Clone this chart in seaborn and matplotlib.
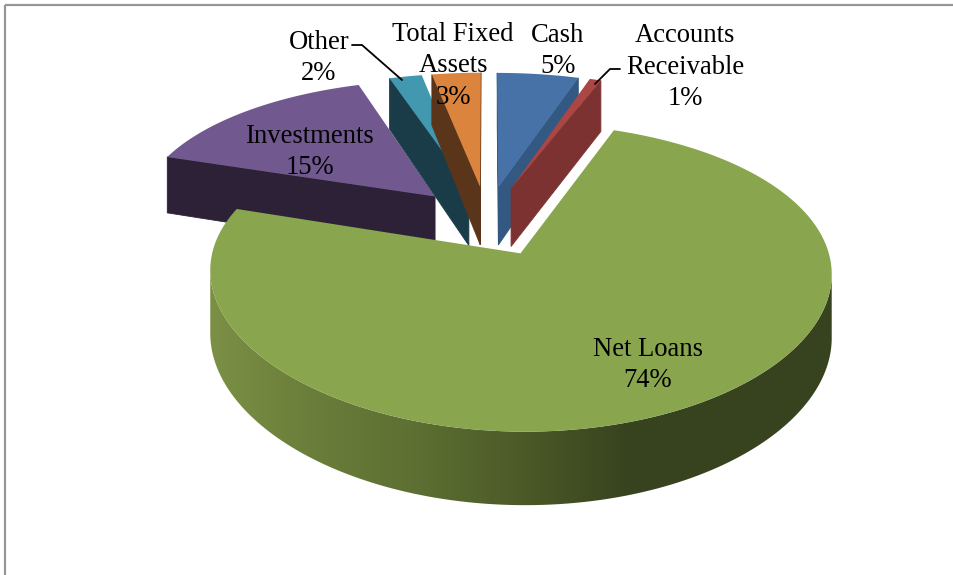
import numpy as np
import matplotlib
matplotlib.use('Agg')
import matplotlib.pyplot as plt
from matplotlib.patches import Polygon
import seaborn as sns

sns.set_theme(style='white')
plt.rcParams['font.family'] = ['Liberation Serif', 'DejaVu Serif']

# slice data, clockwise from 12 o'clock
categories = ['Cash', 'Accounts\nReceivable', 'Net Loans', 'Investments', 'Other', 'Total Fixed\nAssets']
values = [5, 0.7, 74.3, 15, 2, 3]
top_colors = ['#4672a8', '#aa4643', '#89a54e', '#71588f', '#4198af', '#db843d']
side_colors = ['#335882', '#7d3232', '#4e5e2a', '#2c2137', '#1a3c48', '#5a351a']
wall_shades = ['#7b9045', '#6a7d3a', '#5d6f32', '#4c5a28', '#38441f', '#37421e', '#38431f']

# label centres in pixels (x, y of the block)
label_pos = [(558, 51), (685, 67), (648, 365), (310, 152), (319, 58), (453, 66)]

# view settings for the fake 3d
EXPLODE = 0.25
AX, AY = 487, 220.6
SX, SY = 300, 140.6
KX, KY = 0.12, 0.15
DEPTH = 60


def project(u, v):
    x = AX + SX * u / (1 + KX * v)
    y = AY - SY * v / (1 + KY * v)
    return x, y


def drop(v):
    return DEPTH / (1 + KY * v)


fig, ax = plt.subplots(figsize=(9.54, 5.75), dpi=100)
fig.subplots_adjust(0, 0, 1, 1)
ax.axis('off')

# chart frame
ax.plot([5.5, 5.5], [575, 5], color='#969696', lw=1.6, solid_capstyle='butt')
ax.plot([5, 954], [5, 5], color='#969696', lw=1.6, solid_capstyle='butt')

edges = np.cumsum([0] + values) / sum(values) * 360
shades = np.array(sns.blend_palette(wall_shades, n_colors=256))[None, :, :]

# back to front
for i in [3, 4, 5, 0, 1, 2]:
    t1, t2 = edges[i], edges[i + 1]
    mid = np.radians((t1 + t2) / 2)
    cu, cv = EXPLODE * np.sin(mid), EXPLODE * np.cos(mid)
    th = np.radians(np.linspace(t1, t2, max(int(t2 - t1) * 2, 8)))
    u = np.concatenate([[cu], cu + np.sin(th), [cu]])
    v = np.concatenate([[cv], cv + np.cos(th), [cv]])
    xs, ys = project(u, v)
    dr = drop(v)
    is_loans = categories[i] == 'Net Loans'
    for j in range(len(u) - 1):
        # only edges running leftwards face the viewer
        if xs[j + 1] < xs[j] and not (is_loans and 0 < j < len(u) - 2):
            ax.fill([xs[j], xs[j + 1], xs[j + 1], xs[j]],
                    [ys[j], ys[j + 1], ys[j + 1] + dr[j + 1], ys[j] + dr[j]],
                    color=side_colors[i], lw=0.6, zorder=2)
    if is_loans:
        # rounded wall of the big slice gets the left-right shading
        arc_x, arc_y = xs[1:-1], ys[1:-1]
        front = np.diff(arc_x, prepend=arc_x[0] - 1) < 0
        wall_x = np.concatenate([arc_x[front], arc_x[front][::-1]])
        wall_y = np.concatenate([arc_y[front], (arc_y + dr[1:-1])[front][::-1]])
        wall = Polygon(np.column_stack([wall_x, wall_y]), closed=True, fc='none', ec='none',
                       transform=ax.transData)
        ax.add_patch(wall)
        img = ax.imshow(shades, extent=(arc_x.min(), arc_x.max(), 520, 250), aspect='auto',
                        zorder=2, interpolation='bilinear')
        img.set_clip_path(wall)
    ax.fill(xs, ys, color=top_colors[i], lw=0, zorder=2)

ax.set_xlim(0, 954)
ax.set_ylim(575, 0)

# labels
for name, val, (lx, ly) in zip(categories, values, label_pos):
    ax.text(lx, ly, f'{name}\n{round(val)}%', ha='center', va='center', fontsize=19.2,
            color='black', linespacing=1.32, zorder=5)

# leader lines
ax.plot([352, 362, 402], [45, 45, 80], color='black', lw=1.3, zorder=4)
ax.plot([620, 610, 595], [69, 69, 84], color='black', lw=1.3, zorder=4)

fig.savefig('out.png', dpi=100)
